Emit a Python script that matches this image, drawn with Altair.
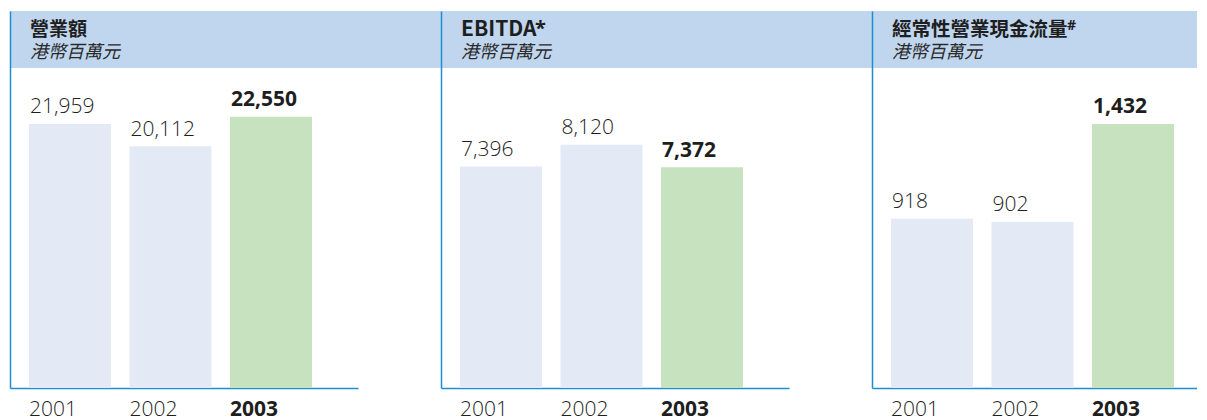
import altair as alt
import pandas as pd

years = ["2001", "2002", "2003"]
titles = ["營業額", "EBITDA", "經常性營業現金流量"]
sup_marks = ["", "*", "#"]
subtitle = "港幣百萬元"
revenue = [21959, 20112, 22550]
ebitda = [7396, 8120, 7372]
cashflow = [918, 902, 1432]

BAND = "#c0d6ee"
AXIS = "#1b8fd2"
LIGHT = "#e3eaf6"
GREEN = "#c6e2bf"
TEXT = "#1e1e1e"
FONT = "Open Sans, Noto Sans, Noto Sans CJK TC, sans-serif"
CJK = "Noto Sans CJK TC, Noto Sans, sans-serif"

GAP = 83
H = 377


def panel(values, title, title_size, sup, ymax, width, band_ext, po, align,
          sup_x, sup_y, sup_size):
    df = pd.DataFrame({"year": years, "value": values})
    head = pd.DataFrame({"t": [title], "s": [subtitle], "m": [sup]})

    xs = alt.Scale(domain=years, paddingInner=0.1841, paddingOuter=po,
                   align=align, round=False)
    x_axis = alt.Axis(title=None, domainColor=AXIS, domainWidth=1.5, ticks=False,
                      grid=False,
                      labelFont=FONT, labelFontSize=21, labelColor=TEXT,
                      labelPadding=10, labelAlign="left",
                      labelOffset=-41, labelAngle=0,
                      labelFontWeight={"condition": {"test": "datum.value == '2003'", "value": "bold"},
                                       "value": 300})
    y_axis = alt.Axis(title=None, labels=False, ticks=False, grid=False,
                      domainColor=AXIS, domainWidth=1.5, zindex=1)
    ys = alt.Scale(domain=[0, ymax], nice=False, zero=True)

    band = alt.Chart(head).mark_rect(color=BAND).encode(
        x=alt.value(0), x2=alt.value(width + band_ext),
        y=alt.value(0), y2=alt.value(57))
    t1 = alt.Chart(head).mark_text(align="left", baseline="alphabetic", font=CJK,
                                   fontSize=title_size, fontWeight="bold", color=TEXT).encode(
        x=alt.value(20), y=alt.value(24.5), text="t:N")
    t2 = alt.Chart(head).mark_text(align="left", baseline="alphabetic", font=CJK,
                                   fontSize=18, fontStyle="italic", color="#2a2a2a").encode(
        x=alt.value(20), y=alt.value(47), text="s:N")

    bars = alt.Chart(df).mark_bar().encode(
        x=alt.X("year:N", scale=xs, axis=x_axis, sort=years),
        y=alt.Y("value:Q", scale=ys, axis=y_axis),
        color=alt.condition(alt.datum.year == "2003", alt.value(GREEN), alt.value(LIGHT)),
    )
    lab_n = alt.Chart(df).transform_filter("datum.year != '2003'").mark_text(
        align="left", baseline="alphabetic", dx=1, dy=-10.5, font=FONT, fontSize=21,
        fontWeight=300, color=TEXT).encode(
        x=alt.X("year:N", bandPosition=0, sort=years, axis=x_axis),
        y=alt.Y("value:Q", axis=y_axis),
        text=alt.Text("value:Q", format=","))
    lab_b = alt.Chart(df).transform_filter("datum.year == '2003'").mark_text(
        align="left", baseline="alphabetic", dx=1, dy=-10.5, font=FONT, fontSize=21,
        fontWeight="bold", color=TEXT).encode(
        x=alt.X("year:N", bandPosition=0, sort=years, axis=x_axis),
        y=alt.Y("value:Q", axis=y_axis),
        text=alt.Text("value:Q", format=","))

    layers = [band, bars, lab_n, lab_b, t1, t2]
    if sup:
        t3 = alt.Chart(head).mark_text(align="left", baseline="alphabetic", font=FONT,
                                       fontSize=sup_size, fontWeight="bold", color=TEXT).encode(
            x=alt.value(sup_x), y=alt.value(sup_y), text="m:N")
        layers.append(t3)
    return alt.layer(*layers).properties(width=width, height=H)


p1 = panel(revenue, titles[0], 19, sup_marks[0], 31350, 348, GAP, 0.32338, 0.2923, 0, 0, 10)
p2 = panel(ebitda, titles[1], 21, sup_marks[1], 12590, 348, GAP, 0.32338, 0.2923, 94, 24, 20)
p3 = panel(cashflow, titles[2], 19.5, sup_marks[2], 2044, 325, 0, 0.20894, 0.4524, 195, 19, 14)

chart = alt.hconcat(p1, p2, p3, spacing=GAP, bounds="flush").properties(
    padding={"left": 2, "top": 3, "right": 0, "bottom": 0}
).configure(
    font=FONT
).configure_view(
    strokeWidth=0, stroke="transparent"
).configure_axis(
    grid=False
)

chart.save("out.html", embed_options={"renderer": "svg", "actions": False})
